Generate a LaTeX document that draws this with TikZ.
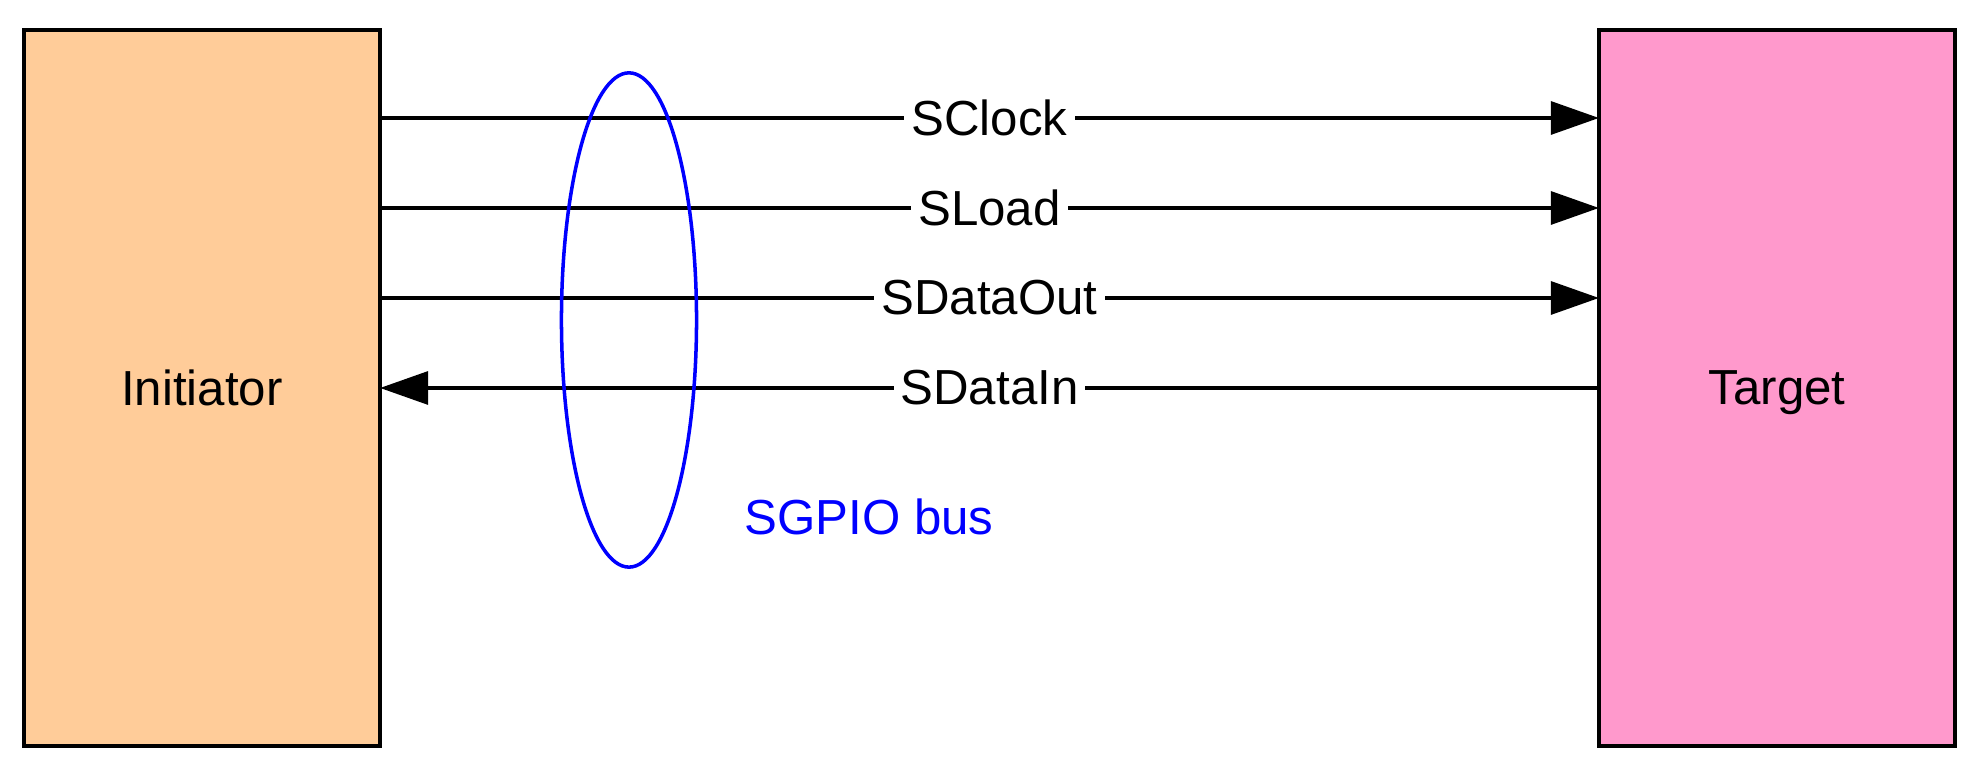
\documentclass[tikz,border=0pt]{standalone}
\usepackage{fontspec}
\setmainfont{Liberation Sans}
\usepackage{xcolor}
\usepackage{tikz}
\usetikzlibrary{shapes.geometric}
\usetikzlibrary{arrows.meta}
\usetikzlibrary{positioning}

\definecolor{initfill}{HTML}{FFCC99}
\definecolor{targetfill}{HTML}{FF99CC}

\begin{document}
\begin{tikzpicture}[
    x=0.01cm, y=-0.01cm,
    font=\fontsize{14}{16}\selectfont,
    unit/.style={rectangle, draw, line width=1.1pt, minimum width=3.56cm, minimum height=7.16cm, outer sep=0pt, text depth=0pt},
    signal/.style={line width=0.9pt, -{Triangle[length=0.48cm, width=0.33cm]}},
    sig label/.style={fill=white, inner sep=2pt},
  ]
  \useasboundingbox (0,0) rectangle (1968,765);

  % Initiator and target
  \node[unit, fill=initfill]   (init)   at (202,388)  {Initiator};
  \node[unit, fill=targetfill] (target) at (1777,388) {Target};

  % Signals
  \draw[signal] (init.east |- 0,118) -- node[sig label] {SClock}   (target.west |- 0,118);
  \draw[signal] (init.east |- 0,208) -- node[sig label] {SLoad}    (target.west |- 0,208);
  \draw[signal] (init.east |- 0,298) -- node[sig label] {SDataOut} (target.west |- 0,298);
  \draw[signal] (target.west |- 0,388) -- node[sig label] {SDataIn} (init.east |- 0,388);

  % Bus ring
  \node[ellipse, draw=blue, line width=1pt, minimum width=1.35cm, minimum height=4.94cm, inner sep=0pt] (bus) at (629,320) {};
  \node[text=blue] (buslabel) at (869,517) {SGPIO bus};

\end{tikzpicture}
\end{document}
